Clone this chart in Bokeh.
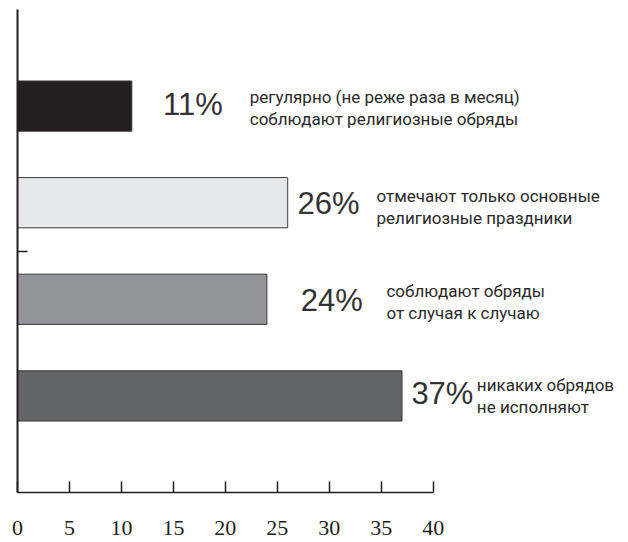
from bokeh.plotting import figure
from bokeh.models import ColumnDataSource, FixedTicker, SingleIntervalTicker, Range1d
from bokeh.core.properties import value
from bokeh.embed import file_html
from bokeh.resources import INLINE

# ---- data ----
values = [11, 26, 24, 37]
percent_labels = ["11%", "26%", "24%", "37%"]
descriptions = [
    "регулярно (не реже раза в месяц)\nсоблюдают религиозные обряды",
    "отмечают только основные\nрелигиозные праздники",
    "соблюдают обряды\nот случая к случаю",
    "никаких обрядов\nне исполняют",
]
x_ticks = [0, 5, 10, 15, 20, 25, 30, 35, 40]

# ---- layout (positions/styles, kept apart from the data) ----
rows = [4, 3, 2, 1]
colors = ["#231f20", "#e6e7e8", "#939598", "#636466"]
pct_x = [14.0, 26.95, 27.25, 37.9]
pct_dy = [-2, 1, 1, -2]
desc_x = [22.35, 34.55, 35.5, 44.2]
desc_dy = [2, 4, 3, 0]

src = ColumnDataSource(dict(
    y=rows, v=values, c=colors, pct=percent_labels, desc=descriptions,
    px=pct_x, pdy=pct_dy, dx=desc_x, ddy=desc_dy,
))

p = figure(
    width=626, height=542,
    x_range=Range1d(0, 58.6), y_range=Range1d(0, 5),
    output_backend="svg", toolbar_location=None,
    min_border_left=17, min_border_right=0, min_border_top=9, min_border_bottom=50,
    background_fill_color="white", border_fill_color="white",
)
p.outline_line_color = None
p.grid.visible = False

p.hbar(y="y", left=0, right="v", height=0.52, fill_color="c",
       line_color="#3a3a3a", line_width=1, source=src)

p.text(x="px", y="y", text="pct", source=src, text_font=value("Liberation Sans"),
       text_font_size="31px", text_color="#333333", text_baseline="middle",
       text_align="left", y_offset="pdy")
p.text(x="dx", y="y", text="desc", source=src,
       text_font=value("Roboto"),
       text_font_size="17px", text_color="#2a2a2a", text_baseline="middle",
       text_align="left", y_offset="ddy", text_line_height=1.12)

xa = p.xaxis[0]
xa.ticker = SingleIntervalTicker(interval=5)
xa.bounds = (x_ticks[0], x_ticks[-1])
xa.major_tick_in = 11
xa.major_tick_out = 0
xa.minor_tick_line_color = None
xa.axis_line_color = "#231f20"
xa.axis_line_width = 1.5
xa.major_tick_line_color = "#231f20"
xa.major_tick_line_width = 1.5
xa.major_label_text_font = "Liberation Serif"
xa.major_label_text_font_size = "22px"
xa.major_label_text_color = "#231f20"
xa.major_label_standoff = 24

ya = p.yaxis[0]
ya.ticker = FixedTicker(ticks=[2.5])
ya.major_tick_in = 10
ya.major_tick_out = 0
ya.minor_tick_line_color = None
ya.axis_line_color = "#231f20"
ya.axis_line_width = 2
ya.major_tick_line_color = "#231f20"
ya.major_tick_line_width = 1.5
ya.major_label_text_color = None
ya.major_label_text_font_size = "1px"
ya.major_label_standoff = 0

open("out.html", "w").write(file_html(p, INLINE))
